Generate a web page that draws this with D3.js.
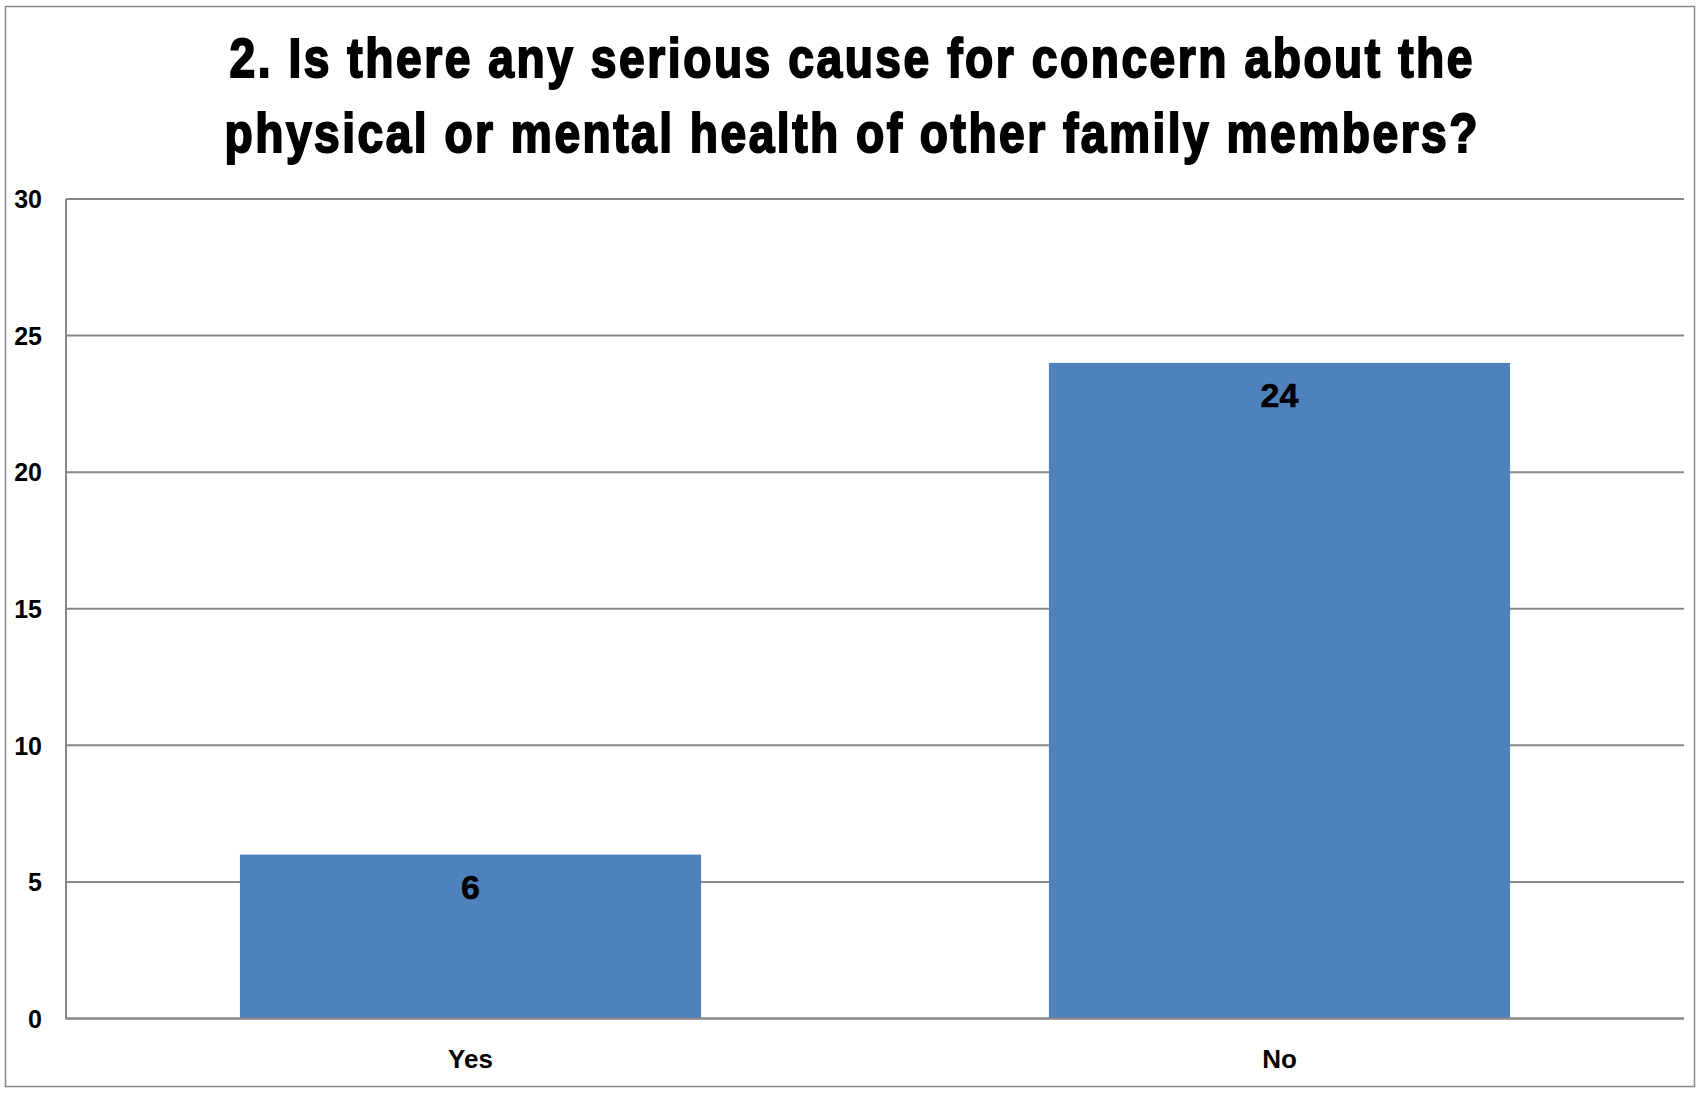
<!DOCTYPE html>
<html><head><meta charset="utf-8">
<script src="https://cdnjs.cloudflare.com/ajax/libs/d3/7.8.5/d3.min.js"></script>
<style>body{margin:0;background:#fff}svg{display:block}</style>
</head><body>
<script>
const titleLines = ["2. Is there any serious cause for concern about the", "physical or mental health of other family members?"];
const categories = ["Yes", "No"];
const values = [6, 24];
const yTicks = [0, 5, 10, 15, 20, 25, 30];

const W = 1698, H = 1094;
const svg = d3.select("body").append("svg").attr("width", W).attr("height", H);
svg.append("rect").attr("x", 5.5).attr("y", 6.5).attr("width", 1689).attr("height", 1080)
  .attr("fill", "#fff").attr("stroke", "#888").attr("stroke-width", 1.5);

const L = 66, R = 1684, T = 199, B = 1018.5;
const x = d3.scaleBand().domain(categories).range([L, R]).paddingInner(0.43).paddingOuter(0.215);
const y = d3.scaleLinear().domain([0, 30]).range([B, T]);

// gridlines
svg.append("g").selectAll("line").data(yTicks).join("line")
  .attr("x1", L).attr("x2", R).attr("y1", d => y(d)).attr("y2", d => y(d))
  .attr("stroke", "#888").attr("stroke-width", 2);

// bars
svg.append("g").selectAll("rect").data(values).join("rect")
  .attr("x", (d, i) => x(categories[i])).attr("width", x.bandwidth())
  .attr("y", d => y(d)).attr("height", d => y(0) - y(d))
  .attr("fill", "#4F81BD");

// axes lines
svg.append("line").attr("x1", L).attr("x2", L).attr("y1", T).attr("y2", B + 1)
  .attr("stroke", "#888").attr("stroke-width", 2);
svg.append("line").attr("x1", L).attr("x2", R).attr("y1", B).attr("y2", B)
  .attr("stroke", "#888").attr("stroke-width", 2);

// y axis labels via d3 axis
const yAxis = d3.axisLeft(y).tickValues(yTicks).tickSize(0).tickPadding(0);
const gy = svg.append("g").attr("transform", `translate(42,0)`).call(yAxis);
gy.select(".domain").remove();
gy.selectAll("text").attr("font-family", "Liberation Sans, Arial, sans-serif")
  .attr("font-weight", "bold").attr("font-size", 25).attr("fill", "#000").attr("dy", "0.35em");

// x axis labels
const xAxis = d3.axisBottom(x).tickSize(0).tickPadding(0);
const gx = svg.append("g").attr("transform", `translate(0,1068)`).call(xAxis);
gx.select(".domain").remove();
gx.selectAll("text").attr("font-family", "Liberation Sans, Arial, sans-serif")
  .attr("font-weight", "bold").attr("font-size", 26).attr("fill", "#000").attr("dy", 0).attr("y", 0);

// data labels
svg.append("g").selectAll("text").data(values).join("text")
  .attr("x", (d, i) => x(categories[i]) + x.bandwidth() / 2)
  .attr("y", d => y(d) + 44)
  .attr("text-anchor", "middle")
  .attr("font-family", "Liberation Sans, Arial, sans-serif")
  .attr("font-weight", "bold").attr("font-size", 34).attr("fill", "#000")
  .attr("stroke", "#000").attr("stroke-width", 0.6)
  .text(d => d);

// title (condensed look)
const sx = 0.84;
const targetW = [1243, 1253];
svg.append("g").attr("transform", `translate(851,0) scale(${sx},1)`)
  .selectAll("text").data(titleLines).join("text")
  .attr("x", 0).attr("y", (d, i) => 77 + i * 75)
  .attr("text-anchor", "middle")
  .attr("font-family", "'Liberation Sans', Arial, sans-serif")
  .attr("font-weight", "bold").attr("font-size", 55).attr("fill", "#000")
  .attr("stroke", "#000").attr("stroke-width", 2)
  .attr("textLength", (d, i) => targetW[i] / sx).attr("lengthAdjust", "spacing")
  .text(d => d);
</script>
</body></html>
